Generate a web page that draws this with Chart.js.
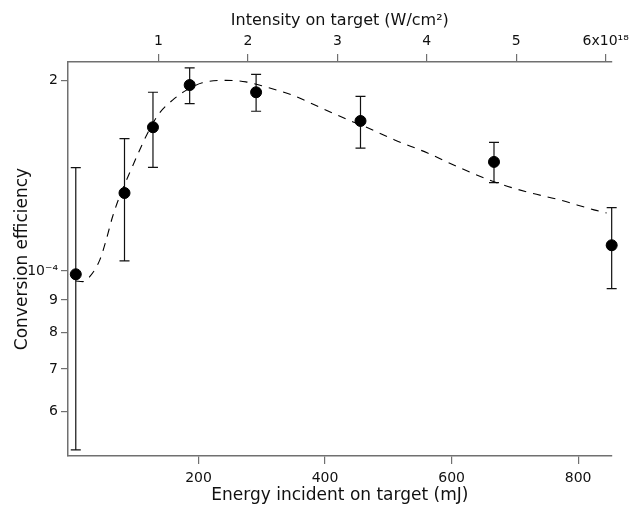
<!DOCTYPE html>
<html>
<head>
<meta charset="utf-8">
<script src="https://cdn.jsdelivr.net/npm/chart.js@4.4.0/dist/chart.umd.min.js"></script>
<style>
  html, body { margin: 0; padding: 0; background: #fff; }
  #wrap { width: 633px; height: 515px; }
</style>
</head>
<body>
<div id="wrap"><canvas id="conversion-chart"></canvas></div>
<script>
// Measured points (energy in mJ, efficiency absolute)
const energy = [6, 83, 128, 186, 291, 456, 667, 853];
const efficiency = [0.988e-4, 1.328e-4, 1.687e-4, 1.967e-4, 1.916e-4, 1.726e-4, 1.487e-4, 1.098e-4];
const errHigh = [1.456e-4, 1.618e-4, 1.916e-4, 2.093e-4, 2.045e-4, 1.888e-4, 1.597e-4, 1.259e-4];
const errLow = [0.5215e-4, 1.037e-4, 1.458e-4, 1.838e-4, 1.788e-4, 1.564e-4, 1.379e-4, 0.938e-4];

// Dashed fit curve
const fitEnergy = [6, 17, 29, 44, 54, 64, 75, 91, 107, 122, 138, 159, 181, 206, 243, 275, 306, 347, 401, 437, 457, 510, 562, 614, 668, 719, 771, 825, 845];
const fitEfficiency = [0.964e-4, 0.962e-4, 0.982e-4, 1.041e-4, 1.119e-4, 1.217e-4, 1.309e-4, 1.428e-4, 1.553e-4, 1.670e-4, 1.775e-4, 1.862e-4, 1.931e-4, 1.983e-4, 2.001e-4, 1.990e-4, 1.954e-4, 1.898e-4, 1.796e-4, 1.732e-4, 1.701e-4, 1.611e-4, 1.536e-4, 1.454e-4, 1.382e-4, 1.333e-4, 1.295e-4, 1.249e-4, 1.235e-4];

// Tick positions and labels
const energyTicks = [200, 400, 600, 800];
const intensityTicks = [1, 2, 3, 4, 5, 6];
const intensityLabels = ['1', '2', '3', '4', '5', '6x10¹⁸'];
const effTicks = [6e-5, 7e-5, 8e-5, 9e-5, 1e-4, 2e-4];
const effLabels = ['6', '7', '8', '9', '10⁻⁴', '2'];

const axisGray = 'rgb(112,112,112)';
const font = 'DejaVu Sans';

const errorBars = {
  id: 'errorBars',
  beforeDatasetsDraw(c) {
    const { ctx } = c;
    const xs = c.scales.x;
    const ys = c.scales.y;
    ctx.save();
    ctx.strokeStyle = '#111';
    ctx.lineWidth = 1.2;
    energy.forEach((e, i) => {
      const x = xs.getPixelForValue(e);
      const top = ys.getPixelForValue(errHigh[i]);
      const bot = ys.getPixelForValue(errLow[i]);
      ctx.beginPath();
      ctx.moveTo(x, top); ctx.lineTo(x, bot);
      ctx.moveTo(x - 5, top); ctx.lineTo(x + 5, top);
      ctx.moveTo(x - 5, bot); ctx.lineTo(x + 5, bot);
      ctx.stroke();
    });
    ctx.restore();
  },
};

const fixedTicks = (values) => (scale) => {
  scale.ticks = values.map((v) => ({ value: v }));
};

new Chart(document.getElementById('conversion-chart'), {
  type: 'scatter',
  data: {
    datasets: [
      {
        label: 'Fit',
        type: 'line',
        data: fitEnergy.map((x, i) => ({ x, y: fitEfficiency[i] })),
        borderColor: '#000',
        borderWidth: 1.1,
        borderDash: [8, 7],
        pointRadius: 0,
        cubicInterpolationMode: 'monotone',
        fill: false,
      },
      {
        label: 'Measured',
        data: energy.map((x, i) => ({ x, y: efficiency[i] })),
        backgroundColor: '#000',
        borderColor: '#000',
        pointRadius: 5.5,
        clip: false,
      },
    ],
  },
  options: {
    responsive: true,
    maintainAspectRatio: false,
    animation: false,
    layout: { padding: { left: 0, right: 18, top: 0, bottom: 0 } },
    scales: {
      x: {
        type: 'linear',
        position: 'bottom',
        min: -6.3,
        max: 853,
        afterBuildTicks: fixedTicks(energyTicks),
        afterFit: (s) => { s.height = 59; },
        grid: { drawOnChartArea: false, tickLength: 8, color: axisGray, lineWidth: 1.2 },
        border: { color: axisGray, width: 1.5 },
        ticks: { color: '#111', font: { family: font, size: 14 }, padding: 6 },
        title: {
          display: true, text: 'Energy incident on target (mJ)', color: '#111',
          font: { family: font, size: 17 }, padding: { top: 2, bottom: 9 },
        },
      },
      x2: {
        type: 'linear',
        position: 'top',
        min: -0.011,
        max: 6.067,
        afterBuildTicks: fixedTicks(intensityTicks),
        afterFit: (s) => { s.height = 62; },
        grid: { drawOnChartArea: false, tickLength: 8, color: axisGray, lineWidth: 1.2 },
        border: { color: axisGray, width: 1.5 },
        ticks: {
          color: '#111', font: { family: font, size: 14 }, padding: 4,
          callback: (v) => intensityLabels[intensityTicks.indexOf(v)] ?? '',
        },
        title: {
          display: true, text: 'Intensity on target (W/cm²)', color: '#111',
          font: { family: font, size: 16 }, padding: { top: 11, bottom: 2 },
        },
      },
      y: {
        type: 'logarithmic',
        position: 'left',
        min: 5.10e-5,
        max: 2.139e-4,
        afterBuildTicks: fixedTicks(effTicks),
        afterFit: (s) => { s.width = 68; },
        grid: { drawOnChartArea: false, tickLength: 7, color: axisGray, lineWidth: 1.2 },
        border: { color: axisGray, width: 1.5 },
        ticks: {
          color: '#111', font: { family: font, size: 14 }, padding: 3,
          callback: (v) => effLabels[effTicks.findIndex((t) => Math.abs(t - v) < 1e-9)] ?? '',
        },
        title: {
          display: true, text: 'Conversion efficiency', color: '#111',
          font: { family: font, size: 17 }, padding: { top: 12, bottom: 4 },
        },
      },
    },
    plugins: {
      legend: { display: false },
      tooltip: { enabled: false },
    },
  },
  plugins: [errorBars],
});
</script>
</body>
</html>
